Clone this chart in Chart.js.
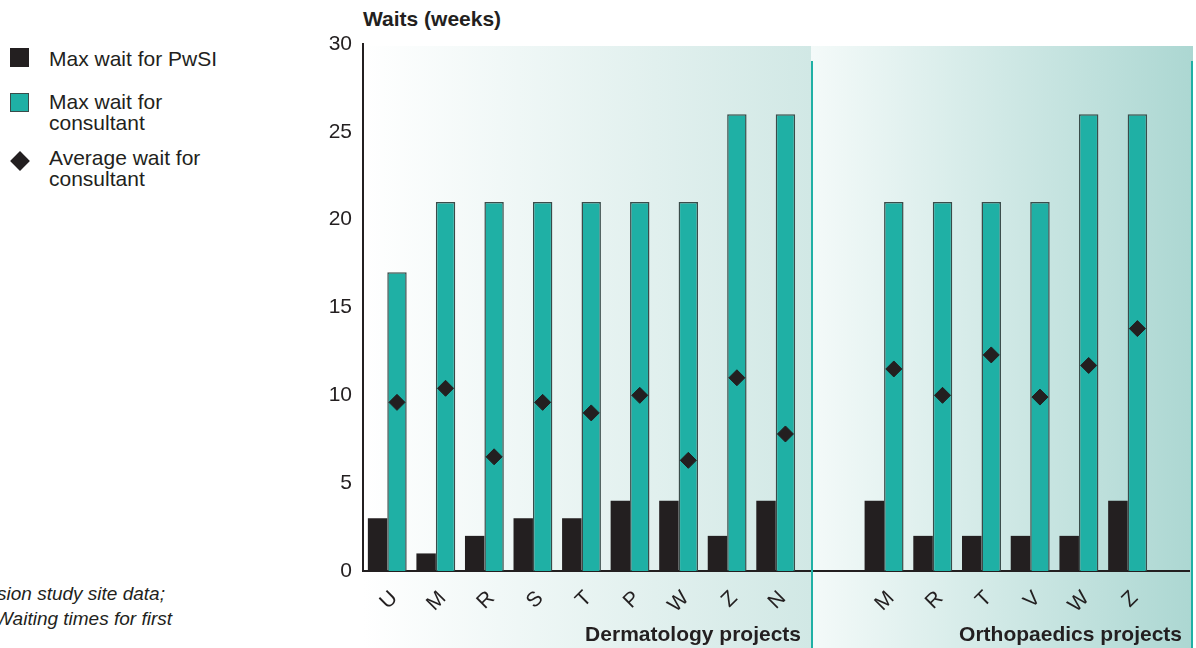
<!DOCTYPE html>
<html>
<head>
<meta charset="utf-8">
<script src="https://cdn.jsdelivr.net/npm/chart.js@4.4.1/dist/chart.umd.min.js"></script>
<style>
  html, body { margin: 0; padding: 0; width: 1196px; height: 648px; overflow: hidden; background: #fff;
    font-family: "Liberation Sans", Arial, Helvetica, sans-serif; color: #231f20; }
  #leftWrap { position: absolute; left: 300px; top: 0; width: 511px; height: 648px; }
  #rightWrap { position: absolute; left: 811px; top: 0; width: 385px; height: 648px; }
  .legend-item { position: absolute; left: 49px; width: 185px; font-size: 21px; line-height: 21px; }
  .swatch { position: absolute; }
  .ytitle { position: absolute; left: 363px; top: 8px; font-size: 21px; line-height: 21px; font-weight: bold; white-space: nowrap; }
  .group { position: absolute; top: 623px; font-size: 21px; line-height: 21px; font-weight: bold; white-space: nowrap; text-align: right; }
  .note { position: absolute; left: -3px; top: 581px; font-size: 19px; line-height: 25px; font-style: italic; white-space: nowrap; }
</style>
</head>
<body>
<div id="legend"></div>
<div class="ytitle">Waits (weeks)</div>
<div id="leftWrap"><canvas id="leftChart"></canvas></div>
<div id="rightWrap"><canvas id="rightChart"></canvas></div>
<div class="group" style="right:395px;">Dermatology projects</div>
<div class="group" style="right:14px;">Orthopaedics projects</div>
<div class="note">sion study site data;<br><span style="margin-left:-2px">Waiting times for first</span></div>
<script>
// series names and values (weeks)
const seriesNames = ['Max wait for PwSI', 'Max wait for consultant', 'Average wait for consultant'];

const dermLabels = ['U', 'M', 'R', 'S', 'T', 'P', 'W', 'Z', 'N'];
const dermMaxPwsi = [3, 1, 2, 3, 3, 4, 4, 2, 4];
const dermMaxConsultant = [17, 21, 21, 21, 21, 21, 21, 26, 26];
const dermAvgConsultant = [9.6, 10.4, 6.5, 9.6, 9.0, 10.0, 6.3, 11.0, 7.8];

const orthoLabels = ['M', 'R', 'T', 'V', 'W', 'Z'];
const orthoMaxPwsi = [4, 2, 2, 2, 2, 4];
const orthoMaxConsultant = [21, 21, 21, 21, 26, 26];
const orthoAvgConsultant = [11.5, 10.0, 12.3, 9.9, 11.7, 13.8];

const yTicks = [0, 5, 10, 15, 20, 25, 30];

const INK = '#231f20';
const TEAL = '#1fb0a5';
const TEAL_EDGE = '#3a4c4a';

Chart.defaults.font.family = '"Liberation Sans", Arial, Helvetica, sans-serif';
Chart.defaults.color = INK;
Chart.defaults.animation = false;

// legend (html so it can wrap like the original)
const legendTops = [48, 91, 147];
const swatches = [
  'left:10px;top:48px;width:19px;height:19px;background:' + INK,
  'left:10px;top:93px;width:17px;height:17px;background:' + TEAL + ';border:1px solid ' + TEAL_EDGE,
  'left:13px;top:154px;width:14px;height:14px;background:' + INK + ';transform:rotate(45deg)'
];
document.getElementById('legend').innerHTML = seriesNames.map((n, i) =>
  '<div class="swatch" style="' + swatches[i] + '"></div>' +
  '<div class="legend-item" style="top:' + legendTops[i] + 'px">' + n + '</div>').join('');

function datasetsFor(pwsi, maxCons, avgCons) {
  return [
    { label: seriesNames[0], data: pwsi, backgroundColor: INK, borderWidth: 0, order: 1,
      categoryPercentage: 0.8, barPercentage: 1.0 },
    { label: seriesNames[1], data: maxCons, backgroundColor: TEAL, borderColor: TEAL_EDGE, borderWidth: 1.5, order: 1,
      categoryPercentage: 0.8, barPercentage: 1.0 },
    { type: 'line', label: seriesNames[2], data: avgCons, showLine: false, pointStyle: 'rectRot',
      pointRadius: 8, pointBackgroundColor: INK, pointBorderColor: INK, pointBorderWidth: 1, order: 0 }
  ];
}

function scalesFor(showY) {
  return {
    x: {
      grid: { display: false, drawTicks: false },
      border: { display: true, color: INK, width: 2 },
      ticks: { autoSkip: false, minRotation: 45, maxRotation: 45, padding: 15, labelOffset: 7,
        font: { size: 21 }, color: INK },
      afterFit: s => { s.height = 77; s.paddingLeft = 0; s.paddingRight = 0; }
    },
    y: {
      display: showY,
      min: 0,
      max: 30,
      afterBuildTicks: s => { s.ticks = yTicks.map(v => ({ value: v })); },
      grid: { display: false, drawTicks: false },
      border: { display: true, color: INK, width: 2 },
      ticks: { padding: 11, font: { size: 21 }, color: INK },
      afterFit: s => { s.width = showY ? 63 : 0; }
    }
  };
}

// average diamonds sit on the teal bar, not the category centre
const diamondOnTeal = {
  id: 'diamondOnTeal',
  afterDatasetsUpdate(chart) {
    const bars = chart.getDatasetMeta(1).data;
    chart.getDatasetMeta(2).data.forEach((pt, i) => { if (bars[i]) pt.x = bars[i].x; });
  }
};

function panel(fromCol, toCol, leftX, rightX, seps) {
  return {
    id: 'panel',
    beforeDraw(chart) {
      const { ctx, chartArea: a, height } = chart;
      const x0 = leftX(chart), x1 = rightX(chart);
      const g = ctx.createLinearGradient(x0, 0, x1, 0);
      g.addColorStop(0, fromCol);
      g.addColorStop(1, toCol);
      ctx.save();
      ctx.fillStyle = g;
      ctx.fillRect(x0, a.top + 2, x1 - x0, height - a.top);
      ctx.restore();
    },
    afterDraw(chart) {
      const { ctx, chartArea: a, height } = chart;
      ctx.save();
      ctx.fillStyle = INK;
      ctx.fillRect(a.right - 1, Math.round(a.bottom) - 1, seps.axisEnd(chart) - a.right + 1, 2);
      ctx.fillStyle = TEAL;
      seps.lines(chart).forEach(x => ctx.fillRect(x, a.top + 17, 2, height));
      ctx.restore();
    }
  };
}

const leftChart = new Chart(document.getElementById('leftChart'), {
  type: 'bar',
  data: { labels: dermLabels, datasets: datasetsFor(dermMaxPwsi, dermMaxConsultant, dermAvgConsultant) },
  options: {
    responsive: true,
    maintainAspectRatio: false,
    events: [],
    layout: { autoPadding: false, padding: { top: 44, right: 11, left: 0, bottom: 0 } },
    plugins: { legend: { display: false }, tooltip: { enabled: false } },
    scales: scalesFor(true)
  },
  plugins: [diamondOnTeal, panel('#ffffff', '#d1e8e5', c => c.chartArea.left, c => c.width,
    { axisEnd: c => c.width, lines: () => [] })]
});

const rightChart = new Chart(document.getElementById('rightChart'), {
  type: 'bar',
  data: {
    labels: [''].concat(orthoLabels),
    datasets: datasetsFor([null].concat(orthoMaxPwsi), [null].concat(orthoMaxConsultant), [null].concat(orthoAvgConsultant))
  },
  options: {
    responsive: true,
    maintainAspectRatio: false,
    events: [],
    layout: { autoPadding: false, padding: { top: leftChart.chartArea.top, right: 44, left: 0, bottom: 0 } },
    plugins: { legend: { display: false }, tooltip: { enabled: false } },
    scales: scalesFor(false)
  },
  plugins: [diamondOnTeal, panel('#f4faf9', '#acd7d2', c => c.chartArea.left, c => c.chartArea.left + 382,
    { axisEnd: c => c.chartArea.left + 379, lines: c => [c.chartArea.left, c.chartArea.left + 380] })]
});
</script>
</body>
</html>
